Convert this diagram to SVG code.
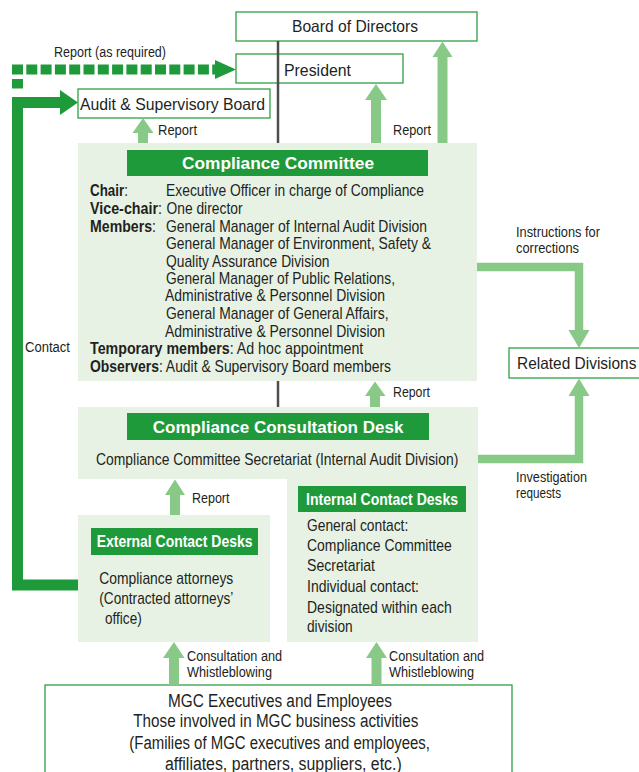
<svg xmlns="http://www.w3.org/2000/svg" width="639" height="772" viewBox="0 0 639 772">
  <style>
    text { font-family: "Liberation Sans Narrow", "Liberation Sans", Arial, sans-serif; fill: #231f20; }
    .lbl { font-size: 14px; }
    .ttl { font-size: 16.5px; }
    .body { font-size: 17px; }
    .big { font-size: 18px; }
    .hdr { font-family: "Liberation Sans", Arial, sans-serif; font-weight: bold; fill: #ffffff; font-size: 16.5px; }
    .hdrn { font-weight: bold; fill: #ffffff; font-size: 16px; }
    .b { font-weight: bold; }
    .wbox { fill: #ffffff; stroke: #2ea043; stroke-width: 1.3; }
    .pane { fill: #e7f2e4; }
    .band { fill: #1e9a3a; }
    .soft { fill: #89c987; }
    .softline { fill: none; stroke: #89c987; stroke-width: 8.5; }
    .axis { stroke: #4d4d4d; stroke-width: 2.5; }
  </style>

  <!-- backgrounds of the committee and desk panels -->
  <g id="compliance-committee">
    <rect class="pane" x="78" y="143" width="399" height="238"/>
    <rect class="band" x="127" y="150" width="301" height="26"/>
    <text class="hdr" x="182" y="169" textLength="192" lengthAdjust="spacingAndGlyphs">Compliance Committee</text>
    <text class="body" x="90" y="196" textLength="38" lengthAdjust="spacingAndGlyphs"><tspan class="b">Chair</tspan>:</text>
    <text class="body" x="166" y="196" textLength="258" lengthAdjust="spacingAndGlyphs">Executive Officer in charge of Compliance</text>
    <text class="body" x="90" y="213.7" textLength="72" lengthAdjust="spacingAndGlyphs"><tspan class="b">Vice-chair</tspan>:</text>
    <text class="body" x="166.5" y="213.7" textLength="76" lengthAdjust="spacingAndGlyphs">One director</text>
    <text class="body" x="90" y="231.7" textLength="66" lengthAdjust="spacingAndGlyphs"><tspan class="b">Members</tspan>:</text>
    <text class="body" x="166" y="231.7" textLength="261" lengthAdjust="spacingAndGlyphs">General Manager of Internal Audit Division</text>
    <text class="body" x="166" y="249.3" textLength="265" lengthAdjust="spacingAndGlyphs">General Manager of Environment, Safety &amp;</text>
    <text class="body" x="166" y="266.7" textLength="163.5" lengthAdjust="spacingAndGlyphs">Quality Assurance Division</text>
    <text class="body" x="166" y="284" textLength="229" lengthAdjust="spacingAndGlyphs">General Manager of Public Relations,</text>
    <text class="body" x="165" y="301.3" textLength="220" lengthAdjust="spacingAndGlyphs">Administrative &amp; Personnel Division</text>
    <text class="body" x="166" y="319.3" textLength="222.5" lengthAdjust="spacingAndGlyphs">General Manager of General Affairs,</text>
    <text class="body" x="165" y="336.7" textLength="220" lengthAdjust="spacingAndGlyphs">Administrative &amp; Personnel Division</text>
    <text class="body" x="90" y="354.3" textLength="273.3" lengthAdjust="spacingAndGlyphs"><tspan class="b">Temporary members</tspan>: Ad hoc appointment</text>
    <text class="body" x="90" y="371.7" textLength="301" lengthAdjust="spacingAndGlyphs"><tspan class="b">Observers</tspan>: Audit &amp; Supervisory Board members</text>
  </g>

  <g id="consultation-desk">
    <path class="pane" d="M78,407 H478 V642 H287 V479 H78 Z"/>
    <rect class="band" x="127" y="413" width="302" height="27"/>
    <text class="hdr" x="152.7" y="432.5" textLength="250.7" lengthAdjust="spacingAndGlyphs">Compliance Consultation Desk</text>
    <text class="body" x="96" y="465" textLength="362.3" lengthAdjust="spacingAndGlyphs">Compliance Committee Secretariat (Internal Audit Division)</text>
  </g>

  <g id="internal-contact-desks">
    <rect class="band" x="298" y="486" width="168" height="26"/>
    <text class="hdrn" x="306" y="505" textLength="152" lengthAdjust="spacingAndGlyphs">Internal Contact Desks</text>
    <text class="body" x="307" y="530.5" textLength="101.3" lengthAdjust="spacingAndGlyphs">General contact:</text>
    <text class="body" x="307" y="550.5" textLength="144.7" lengthAdjust="spacingAndGlyphs">Compliance Committee</text>
    <text class="body" x="307" y="570.5" textLength="68" lengthAdjust="spacingAndGlyphs">Secretariat</text>
    <text class="body" x="307" y="592" textLength="112" lengthAdjust="spacingAndGlyphs">Individual contact:</text>
    <text class="body" x="307" y="613" textLength="144.7" lengthAdjust="spacingAndGlyphs">Designated within each</text>
    <text class="body" x="307" y="632" textLength="45.7" lengthAdjust="spacingAndGlyphs">division</text>
  </g>

  <g id="external-contact-desks">
    <rect class="pane" x="78" y="515" width="192" height="127"/>
    <rect class="band" x="91" y="528" width="167" height="27"/>
    <text class="hdrn" x="96.7" y="547" textLength="155.7" lengthAdjust="spacingAndGlyphs">External Contact Desks</text>
    <text class="body" x="99.3" y="583.5" textLength="134" lengthAdjust="spacingAndGlyphs">Compliance attorneys</text>
    <text class="body" x="99.3" y="603.5" textLength="134" lengthAdjust="spacingAndGlyphs">(Contracted attorneys’</text>
    <text class="body" x="105" y="624" textLength="36.7" lengthAdjust="spacingAndGlyphs">office)</text>
  </g>

  <g id="board-of-directors">
    <rect class="wbox" x="236" y="12" width="241" height="29"/>
    <text class="ttl" x="292" y="32" textLength="126" lengthAdjust="spacingAndGlyphs">Board of Directors</text>
  </g>

  <g id="president">
    <rect class="wbox" x="236" y="54" width="167" height="29"/>
    <text class="ttl" x="284" y="75.5" textLength="67" lengthAdjust="spacingAndGlyphs">President</text>
  </g>

  <g id="audit-supervisory-board">
    <rect class="wbox" x="78" y="89" width="192" height="29"/>
    <text class="ttl" x="80" y="110" textLength="185" lengthAdjust="spacingAndGlyphs">Audit &amp; Supervisory Board</text>
  </g>

  <g id="related-divisions">
    <rect class="wbox" x="509" y="348" width="135" height="30"/>
    <text class="ttl" x="517" y="369" textLength="119.4" lengthAdjust="spacingAndGlyphs">Related Divisions</text>
  </g>

  <g id="mgc-executives-employees">
    <rect class="wbox" x="45" y="685" width="467" height="95"/>
    <text class="big" x="168" y="707" textLength="224" lengthAdjust="spacingAndGlyphs">MGC Executives and Employees</text>
    <text class="big" x="133.3" y="727" textLength="285" lengthAdjust="spacingAndGlyphs">Those involved in MGC business activities</text>
    <text class="big" x="129.3" y="748.5" textLength="300.7" lengthAdjust="spacingAndGlyphs">(Families of MGC executives and employees,</text>
    <text class="big" x="165" y="770" textLength="236.7" lengthAdjust="spacingAndGlyphs">affiliates, partners, suppliers, etc.)</text>
  </g>

  <g id="connectors">
    <!-- reporting line through the chain of command -->
    <line class="axis" x1="278" y1="41" x2="278" y2="143"/>
    <line class="axis" x1="278" y1="381" x2="278" y2="407"/>

    <!-- report (as required): dashed route to the President -->
    <line x1="12" y1="69.5" x2="215" y2="69.5" stroke="#1e9a3a" stroke-width="10" stroke-dasharray="11 3.3"/>
    <rect x="12" y="79" width="11" height="9.5" fill="#1e9a3a"/>
    <polygon points="215,60 236,69.5 215,79" fill="#1e9a3a"/>

    <!-- contact: external desks to the Audit & Supervisory Board -->
    <path d="M78,585 H17.5 V97 M12,102.5 H62" fill="none" stroke="#1e9a3a" stroke-width="11"/>
    <polygon points="60,90 78,102.5 60,115" fill="#1e9a3a"/>

    <!-- report arrows -->
    <polygon class="soft" points="138,143 138,133 132.5,133 143,118 153.5,133 148,133 148,143"/>
    <polygon class="soft" points="371,143 371,100 365,100 376,84 387,100 381,100 381,143"/>
    <polygon class="soft" points="437.5,143 437.5,57 432.5,57 442.5,41.5 452.5,57 447.5,57 447.5,143"/>
    <polygon class="soft" points="370,407 370,396 365,396 375,381.5 385.5,396 380,396 380,407"/>
    <polygon class="soft" points="170,515 170,495 165,495 175,479.5 185,495 180,495 180,515"/>

    <!-- consultation and whistleblowing -->
    <polygon class="soft" points="169,685 169,658 163,658 174,642 184.5,658 179,658 179,685"/>
    <polygon class="soft" points="371.5,685 371.5,658 366,658 376.5,642 387,658 381.5,658 381.5,685"/>

    <!-- instructions for corrections / investigation requests -->
    <path class="softline" d="M477,267 H579 V331"/>
    <polygon class="soft" points="568.5,330 579,348 589.5,330"/>
    <path class="softline" d="M478,459 H579 V395"/>
    <polygon class="soft" points="568.5,396 579,378.5 589.5,396"/>

    <!-- connector labels -->
    <text class="lbl" x="54" y="57" textLength="112" lengthAdjust="spacingAndGlyphs">Report (as required)</text>
    <text class="lbl" x="158" y="135" textLength="39" lengthAdjust="spacingAndGlyphs">Report</text>
    <text class="lbl" x="393" y="135" textLength="38" lengthAdjust="spacingAndGlyphs">Report</text>
    <text class="lbl" x="25" y="352" textLength="45" lengthAdjust="spacingAndGlyphs">Contact</text>
    <text class="lbl" x="516" y="237" textLength="84" lengthAdjust="spacingAndGlyphs">Instructions for</text>
    <text class="lbl" x="516" y="253" textLength="63" lengthAdjust="spacingAndGlyphs">corrections</text>
    <text class="lbl" x="393" y="397" textLength="37" lengthAdjust="spacingAndGlyphs">Report</text>
    <text class="lbl" x="516" y="482" textLength="71" lengthAdjust="spacingAndGlyphs">Investigation</text>
    <text class="lbl" x="516" y="498" textLength="45" lengthAdjust="spacingAndGlyphs">requests</text>
    <text class="lbl" x="192" y="503" textLength="37.5" lengthAdjust="spacingAndGlyphs">Report</text>
    <text class="lbl" x="187" y="661" textLength="95" lengthAdjust="spacingAndGlyphs">Consultation and</text>
    <text class="lbl" x="187" y="677" textLength="85" lengthAdjust="spacingAndGlyphs">Whistleblowing</text>
    <text class="lbl" x="389" y="661" textLength="95" lengthAdjust="spacingAndGlyphs">Consultation and</text>
    <text class="lbl" x="389" y="677" textLength="85" lengthAdjust="spacingAndGlyphs">Whistleblowing</text>
  </g>
</svg>
